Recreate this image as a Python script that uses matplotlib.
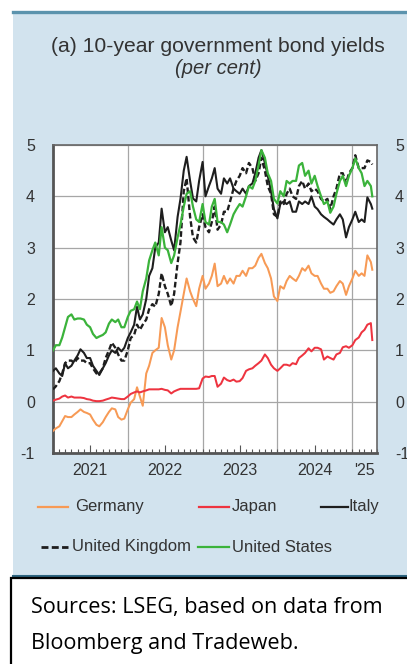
import matplotlib
matplotlib.use("Agg")
import matplotlib.pyplot as plt
import matplotlib.dates as mdates
from matplotlib.lines import Line2D
from matplotlib.patches import Rectangle
import pandas as pd

# ---------------- data (semi-monthly readings, per cent) ----------------
dates = list(pd.date_range("2021-01-01", "2025-04-01", freq="SMS")) + [pd.Timestamp("2025-04-08")]

germany = [
    -0.57, -0.52, -0.48, -0.38, -0.28, -0.30, -0.30, -0.25, -0.20, -0.15, -0.20, -0.22,
    -0.25, -0.35, -0.45, -0.48, -0.40, -0.30, -0.20, -0.13, -0.15, -0.30, -0.35, -0.33,
    -0.15, -0.02, 0.05, 0.28, 0.10, -0.08, 0.55, 0.70, 0.95, 1.00, 1.05, 1.63,
    1.45, 1.10, 0.82, 1.00, 1.45, 1.75, 2.10, 2.40, 2.15, 2.00, 1.86, 2.20,
    2.45, 2.20, 2.30, 2.45, 2.69, 2.25, 2.30, 2.45, 2.30, 2.40, 2.30, 2.45,
    2.45, 2.55, 2.45, 2.60, 2.60, 2.65, 2.80, 2.88, 2.70, 2.60, 2.40, 2.05,
    1.96, 2.25, 2.20, 2.35, 2.45, 2.40, 2.35, 2.45, 2.60, 2.55, 2.65, 2.50,
    2.45, 2.45, 2.30, 2.20, 2.20, 2.12, 2.15, 2.25, 2.35, 2.30, 2.08, 2.25,
    2.40, 2.55, 2.45, 2.50, 2.45, 2.85, 2.72, 2.57,
]
japan = [
    0.02, 0.04, 0.06, 0.10, 0.12, 0.08, 0.10, 0.08, 0.08, 0.08, 0.07, 0.05,
    0.04, 0.02, 0.01, 0.01, 0.02, 0.04, 0.06, 0.08, 0.07, 0.06, 0.05, 0.05,
    0.10, 0.15, 0.18, 0.20, 0.18, 0.20, 0.22, 0.24, 0.24, 0.24, 0.24, 0.25,
    0.23, 0.22, 0.16, 0.20, 0.23, 0.25, 0.25, 0.25, 0.25, 0.25, 0.25, 0.26,
    0.45, 0.49, 0.48, 0.50, 0.50, 0.29, 0.35, 0.47, 0.42, 0.40, 0.43, 0.39,
    0.40, 0.46, 0.60, 0.63, 0.65, 0.70, 0.75, 0.80, 0.92, 0.85, 0.72, 0.65,
    0.60, 0.65, 0.72, 0.72, 0.70, 0.75, 0.73, 0.85, 0.90, 0.95, 1.04, 0.98,
    1.05, 1.05, 1.02, 0.82, 0.88, 0.85, 0.82, 0.92, 0.95, 1.06, 1.08, 1.05,
    1.10, 1.20, 1.25, 1.35, 1.40, 1.50, 1.53, 1.20,
]
italy = [
    0.60, 0.65, 0.55, 0.50, 0.75, 0.65, 0.70, 0.80, 0.90, 1.02, 0.95, 0.85,
    0.85, 0.70, 0.60, 0.52, 0.65, 0.75, 0.90, 1.00, 0.95, 1.05, 0.98, 1.05,
    1.24, 1.35, 1.50, 1.85, 1.60, 1.70, 2.00, 2.45, 2.60, 3.00, 3.10, 3.76,
    3.30, 3.40, 3.14, 2.95, 3.60, 3.95, 4.50, 4.77, 4.30, 3.96, 3.90, 4.30,
    4.67, 4.00, 4.20, 4.35, 4.55, 4.15, 4.05, 4.35, 4.25, 4.35, 4.15, 4.10,
    4.05, 4.15, 4.05, 4.20, 4.25, 4.45, 4.75, 4.90, 4.65, 4.40, 4.10, 3.75,
    3.57, 3.85, 3.90, 3.85, 3.90, 3.70, 3.70, 3.90, 3.85, 3.90, 3.85, 4.00,
    3.80, 3.75, 3.65, 3.60, 3.55, 3.50, 3.45, 3.55, 3.65, 3.55, 3.20, 3.40,
    3.55, 3.70, 3.50, 3.55, 3.50, 3.98, 3.85, 3.76,
]
united_kingdom = [
    0.24, 0.30, 0.40, 0.55, 0.75, 0.80, 0.80, 0.75, 0.85, 0.80, 0.80, 0.75,
    0.75, 0.65, 0.55, 0.55, 0.65, 0.85, 1.00, 1.15, 1.05, 0.92, 0.80, 0.80,
    1.00, 1.24, 1.30, 1.50, 1.40, 1.50, 1.60, 1.80, 1.90, 1.85, 2.10, 2.50,
    2.25, 2.10, 1.86, 2.10, 2.70, 3.10, 4.10, 4.35, 3.60, 3.20, 3.10, 3.40,
    3.65, 3.40, 3.30, 3.50, 3.80, 3.35, 3.45, 3.70, 3.70, 3.90, 4.15, 4.30,
    4.40, 4.55, 4.45, 4.65, 4.55, 4.30, 4.45, 4.75, 4.50, 4.20, 4.05, 3.65,
    3.60, 3.90, 3.85, 4.05, 4.15, 4.00, 3.95, 4.20, 4.30, 4.15, 4.25, 4.10,
    4.15, 4.10, 3.95, 3.90, 3.95, 3.75, 4.00, 4.15, 4.45, 4.45, 4.25, 4.45,
    4.55, 4.80, 4.55, 4.55, 4.55, 4.70, 4.67, 4.62,
]
united_states = [
    1.00, 1.10, 1.10, 1.25, 1.45, 1.65, 1.70, 1.60, 1.62, 1.62, 1.60, 1.50,
    1.45, 1.32, 1.24, 1.27, 1.30, 1.35, 1.52, 1.60, 1.55, 1.60, 1.45, 1.45,
    1.65, 1.77, 1.80, 1.95, 1.80, 2.15, 2.40, 2.75, 2.95, 3.10, 2.85, 3.40,
    3.00, 2.95, 2.70, 2.85, 3.20, 3.45, 3.80, 4.05, 4.10, 3.80, 3.55, 3.50,
    3.85, 3.50, 3.45, 3.80, 3.95, 3.50, 3.50, 3.45, 3.30, 3.45, 3.65, 3.75,
    3.85, 3.80, 4.00, 4.20, 4.15, 4.30, 4.60, 4.90, 4.75, 4.45, 4.30, 3.95,
    3.86, 4.10, 4.00, 4.30, 4.25, 4.30, 4.30, 4.60, 4.65, 4.40, 4.50, 4.25,
    4.40, 4.20, 4.00, 3.85, 3.90, 3.68, 3.80, 4.05, 4.30, 4.40, 4.20, 4.40,
    4.55, 4.74, 4.55, 4.45, 4.20, 4.30, 4.20, 4.00,
]

series_names = ["Germany", "Japan", "Italy", "United Kingdom", "United States"]
x_labels = ["2021", "2022", "2023", "2024", "'25"]
x_label_dates = ["2021-07-01", "2022-07-01", "2023-07-01", "2024-07-01", "2025-03-01"]
year_starts = ["2022-01-01", "2023-01-01", "2024-01-01", "2025-01-01"]
y_ticks = [-1, 0, 1, 2, 3, 4, 5]

# ---------------- styling ----------------
W, H = 407, 664
DPI = 100
panel_col = "#d2e3ee"
c_de, c_jp, c_it, c_uk, c_us = "#f79a55", "#ee3440", "#1e1e1e", "#1e1e1e", "#3bb33b"
txt_col = "#333333"
font = ["Liberation Sans", "DejaVu Sans"]
plt.rcParams["font.family"] = font

fig = plt.figure(figsize=(W / DPI, H / DPI), dpi=DPI)
fig.patch.set_facecolor("white")

def fx(px):
    return px / W

def fy(py):
    return 1 - py / H

# light blue panel
fig.patches.append(Rectangle((fx(13), fy(576)), fx(W - 13), fy(11) - fy(576),
                             transform=fig.transFigure, facecolor=panel_col,
                             edgecolor="none", zorder=-5))
# top teal rule
fig.add_artist(Line2D([fx(13), 1], [fy(11.5), fy(11.5)], color="#5b93ad", lw=2.4, zorder=1))
# bottom rule of panel
fig.add_artist(Line2D([fx(13), 1], [fy(576), fy(576)], color="#2d6580", lw=1.5, zorder=1))
# sources box
fig.patches.append(Rectangle((fx(11), fy(H + 2)), fx(W + 5 - 11), fy(578) - fy(H + 2),
                             transform=fig.transFigure, facecolor="white",
                             edgecolor="black", lw=1.6, zorder=1))

# title
fig.text(fx(218), fy(47), "(a) 10-year government bond yields", ha="center", va="center",
         fontsize=15.2, color=txt_col)
fig.text(fx(218), fy(68), "(per cent)", ha="center", va="center", fontsize=14.5,
         style="italic", color=txt_col)

# axes
ax = fig.add_axes([fx(53), fy(453), fx(377) - fx(53), fy(145) - fy(453)])
ax.set_zorder(3)
ax.set_facecolor("white")

d = pd.to_datetime(dates)
ax.plot(d, germany, color=c_de, lw=1.45, zorder=3)
ax.plot(d, japan, color=c_jp, lw=1.45, zorder=3)
ax.plot(d, italy, color=c_it, lw=1.5, zorder=4)
ax.plot(d, united_kingdom, color=c_uk, lw=1.7, ls=(0, (2.4, 1.2)), zorder=4)
ax.plot(d, united_states, color=c_us, lw=1.6, zorder=5)

ax.set_xlim(pd.Timestamp("2021-01-01"), pd.Timestamp("2025-05-01"))
ax.set_ylim(-1, 5)
ax.set_yticks(y_ticks)
ax.set_yticklabels([str(v) for v in y_ticks])
ax.tick_params(axis="y", length=0, pad=13, labelsize=11.5, labelcolor=txt_col,
               labelleft=True, labelright=True)
ax.grid(axis="y", color="#a6a6a6", lw=0.9, zorder=1)
for ys in year_starts:
    ax.axvline(pd.Timestamp(ys), color="#a6a6a6", lw=0.9, zorder=1)

# x ticks: monthly minor (short), mid-year major (longer), inside
ax.xaxis.set_major_locator(mdates.MonthLocator(bymonth=7))
ax.xaxis.set_minor_locator(mdates.MonthLocator())
ax.xaxis.set_major_formatter(plt.NullFormatter())
ax.tick_params(axis="x", which="major", direction="in", length=6, width=0.8, color="#555555")
ax.tick_params(axis="x", which="minor", direction="in", length=3, width=0.8, color="#555555")

sec = ax.secondary_xaxis("bottom")
sec.set_xticks(pd.to_datetime(x_label_dates))
sec.set_xticklabels(x_labels)
sec.tick_params(length=0, pad=7, labelsize=11.5, labelcolor=txt_col)
sec.spines["bottom"].set_visible(False)

for s in ["top", "right"]:
    ax.spines[s].set_color("#666666")
    ax.spines[s].set_linewidth(1.2)
for s in ["left", "bottom"]:
    ax.spines[s].set_color("#555555")
    ax.spines[s].set_linewidth(2.0)

# legend (manual layout)
leg = [
    (38, 68, 507, c_de, "-", "Germany", 75),
    (199, 229, 507, c_jp, "-", "Japan", 232),
    (321, 348, 507, c_it, "-", "Italy", 349),
    (41, 68, 547, c_uk, "--", "United Kingdom", 72),
    (198, 229, 547, c_us, "-", "United States", 232),
]
for x0, x1, yy, col, ls, name, tx in leg:
    if ls == "--":
        fig.add_artist(Line2D([fx(x0), fx(x1)], [fy(yy), fy(yy)], color=col, lw=2.0,
                              ls=(0, (2.5, 1.2))))
    else:
        fig.add_artist(Line2D([fx(x0), fx(x1)], [fy(yy), fy(yy)], color=col, lw=1.6))
    fig.text(fx(tx), fy(yy), name, ha="left", va="center", fontsize=12, color=txt_col)

# sources
fig.text(fx(31), fy(608), "Sources: LSEG, based on data from", ha="left", va="center",
         fontsize=15.6, color="black", family=["Open Sans", "DejaVu Sans"], zorder=5)
fig.text(fx(31), fy(644), "Bloomberg and Tradeweb.", ha="left", va="center",
         fontsize=15.6, color="black", family=["Open Sans", "DejaVu Sans"], zorder=5)

fig.savefig("out.png", dpi=DPI)
